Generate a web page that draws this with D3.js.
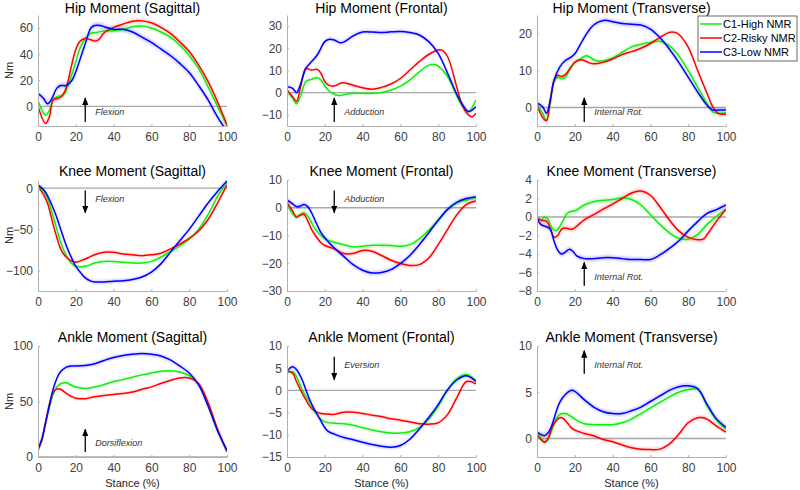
<!DOCTYPE html>
<html><head><meta charset="utf-8">
<script src="https://cdn.jsdelivr.net/npm/d3@7"></script>
<style>body{margin:0;background:#fff}</style>
</head><body>
<svg id="c" width="800" height="490"></svg>
<script>
// ---------------- DATA ----------------
const groups = ["C1-High NMR", "C2-Risky NMR", "C3-Low NMR"];
const groupColors = ["#10ee10", "#ff0000", "#0000ff"];
const xTicks = [0, 20, 40, 60, 80, 100];

const hipSag = [
  [[0,4.3],[4,-6.6],[6,-3],[8,5],[10,7.4],[12,8],[14,9.5],[16,16],[18,25],[20,34],[22,44],[25,52],[28,56],[30,56.4],[35,57.7],[40,58],[45,59],[50,61],[55,61.5],[60,60],[65,57],[70,53],[75,47],[80,39],[85,29],[90,15],[93,6],[96,-3],[100,-15]],
  [[0,0],[4,-13],[6,-8],[8,5],[10,6],[12,7],[14,11],[16,20],[18,33],[20,43.6],[22,49.5],[25,52],[28,51],[30,50],[32,51],[35,56.4],[40,60.5],[45,63],[50,65.3],[55,65.5],[60,64],[65,60.5],[70,56],[75,49.5],[80,42],[85,31.6],[90,19],[93,10],[96,0],[100,-14]],
  [[0,10],[3,6],[5,2],[7,5],[10,14],[12,16],[15,16],[18,20],[20,26.5],[22,35],[25,48],[28,60],[30,62],[33,62],[35,61],[40,59],[45,59],[50,57],[55,53],[60,49],[65,44],[70,39],[75,33],[80,26],[85,16],[90,5],[93,-3],[96,-10.5],[100,-19]]
];
const hipFront = [
  [[0,0.5],[3,-2.5],[5,-5],[7,-1.8],[10,5],[13,6],[16,6.7],[18,5.7],[20,3],[22,1],[25,-0.7],[28,-1.3],[30,-0.9],[35,-0.3],[40,-0.3],[45,-0.3],[50,0.1],[55,1.2],[60,3],[65,5.7],[70,9.4],[75,12.4],[78,12.7],[80,12],[85,7.2],[90,-1.8],[93,-6.3],[96,-8.5],[100,-3.3]],
  [[0,1.2],[3,-1.8],[5,-4],[7,2],[9,9.4],[10,11],[13,10.2],[16,10.5],[18,8.7],[20,5],[22,3.4],[25,3],[28,4.2],[30,4.5],[35,3.4],[40,2.2],[45,1.6],[50,2.4],[55,3.9],[60,6.4],[65,10.2],[70,14],[75,17.2],[80,19.2],[82,19.2],[85,16.2],[90,2],[93,-6.3],[96,-10],[98,-10.8],[100,-9.3]],
  [[0,2.7],[3,2],[5,0],[7,3.4],[10,11],[13,14],[16,17],[20,23],[22,24],[25,23.7],[28,22.5],[30,22.8],[35,25.6],[40,27.3],[45,27.3],[50,27.1],[55,27.4],[60,27.6],[65,27.1],[70,26],[75,23],[80,17.7],[85,8.7],[90,-1],[93,-5.5],[96,-8.5],[100,-6.3]]
];
const hipTrans = [
  [[0,0.9],[3,-1.6],[5,-3.4],[7,1],[9,6.9],[11,8.2],[13,7.8],[15,8.2],[18,10.9],[20,12.2],[23,13.1],[26,14],[28,13.6],[30,12.9],[33,12.5],[36,12.7],[40,13.4],[45,14.9],[50,16.4],[55,17.1],[60,17.6],[65,17.9],[70,16.7],[75,14],[80,10],[85,5.5],[90,1.1],[93,-1.2],[96,-1.6],[100,-1.4]],
  [[0,0.6],[3,-2.7],[5,-3.6],[7,2],[9,7.3],[11,8.7],[13,8.4],[15,8.9],[18,10.9],[20,12.2],[23,12.9],[25,12.7],[28,12],[30,11.8],[35,12.2],[40,13.1],[45,14.3],[50,15.1],[55,16],[60,17.3],[65,18.9],[70,20.3],[73,20.3],[75,19.8],[80,16.3],[85,10],[90,3.8],[93,0.2],[96,-1.6],[100,-1.8]],
  [[0,1.25],[3,0.2],[5,-1.6],[7,2],[9,7.3],[12,10.9],[15,12.7],[18,13.6],[20,14.5],[23,17.1],[25,18.9],[28,21.2],[30,22.3],[33,23.2],[36,23.6],[40,23.2],[45,22.7],[50,22.5],[55,22.3],[60,21.2],[65,18.9],[70,15.8],[75,12.2],[80,8.2],[85,4.2],[90,0.6],[93,-0.7],[96,-0.7],[100,-0.7]]
];
const kneeSag = [
  [[0,2.8],[3,-4],[5,-12],[8,-34],[10,-50],[12,-66],[15,-82],[18,-92],[20,-95],[25,-95],[30,-91],[35,-89],[40,-89],[45,-90],[50,-91],[55,-91],[60,-89],[65,-84],[70,-77],[75,-70],[80,-62],[85,-50],[90,-32],[95,-10],[100,7.2]],
  [[0,2],[3,-8],[5,-18],[8,-44],[10,-60],[12,-74],[15,-84],[18,-89],[20,-90],[25,-86],[30,-81],[35,-78],[40,-78],[45,-80],[50,-81],[55,-82],[60,-81],[65,-79],[70,-74],[75,-68],[80,-61],[85,-52],[90,-38],[95,-18],[100,4]],
  [[0,4],[3,-2],[5,-9],[8,-24],[10,-36],[12,-50],[15,-70],[18,-86],[20,-95],[23,-104],[25,-109],[28,-113],[30,-114],[35,-114],[40,-113],[45,-112.5],[50,-111],[55,-108],[60,-102],[65,-92],[70,-78],[75,-64],[80,-50],[85,-34],[90,-18],[95,-4],[100,8.8]]
];
const kneeFront = [
  [[0,1.2],[3,-2.2],[5,-3.3],[7,-2.4],[9,-1.8],[11,-3],[13,-5.4],[15,-7.8],[18,-10],[20,-11.2],[25,-12.4],[30,-13.3],[35,-14.1],[40,-13.9],[45,-13.5],[50,-13.5],[55,-13.6],[60,-13.9],[65,-13.3],[70,-11.2],[75,-8.1],[80,-4.5],[85,-0.6],[90,1.8],[95,2.8],[100,3.4]],
  [[0,1.8],[3,-1.2],[5,-3.4],[7,-2.7],[9,-2.4],[11,-4.8],[13,-7.8],[15,-10],[18,-12.6],[20,-13.6],[25,-14.8],[30,-16.5],[35,-16.5],[40,-15.4],[45,-15.7],[50,-17.2],[55,-18.9],[60,-20.1],[65,-20.8],[70,-20.5],[75,-18.1],[80,-13.3],[85,-7.8],[90,-2.4],[95,1.2],[100,2.4]],
  [[0,2.8],[3,1.4],[5,0.4],[7,0.6],[9,1.2],[11,0.4],[13,-1.8],[15,-4.8],[18,-9],[20,-10.8],[25,-14.5],[30,-17.5],[35,-20.5],[40,-22.5],[45,-23.5],[50,-23.3],[55,-22.3],[60,-20.1],[65,-17.2],[70,-13.3],[75,-9],[80,-4.5],[85,-0.6],[90,2],[95,3.3],[100,4]]
];
const kneeTrans = [
  [[0,0],[2,-0.35],[4,0],[6,-0.3],[8,-1.2],[10,-1.5],[12,-1.05],[14,-0.3],[16,0.4],[18,0.6],[20,0.67],[25,1.3],[30,1.65],[35,1.8],[40,1.9],[45,2.05],[50,1.9],[55,1.3],[60,0.25],[65,-0.8],[70,-1.7],[75,-2.3],[80,-2.4],[85,-1.9],[90,-0.8],[95,0.07],[100,0.85]],
  [[0,-0.1],[2,-0.35],[5,-0.45],[7,-1.2],[9,-2.2],[11,-2],[13,-1.3],[15,-1.2],[17,-1.3],[19,-1.3],[21,-1],[25,-0.3],[30,0.25],[35,0.85],[40,1.4],[45,2],[50,2.6],[55,2.8],[60,2.35],[65,1.1],[70,-0.3],[75,-1.5],[80,-2.2],[85,-2.45],[88,-2.4],[90,-1.9],[95,-0.45],[100,0.85]],
  [[0,-0.1],[2,-0.8],[5,-1.05],[7,-1.3],[9,-2.6],[11,-3.6],[13,-4],[15,-3.8],[17,-3.5],[19,-3.7],[21,-4.2],[25,-4.5],[30,-4.5],[35,-4.4],[40,-4.4],[45,-4.5],[50,-4.6],[55,-4.6],[60,-4.6],[65,-4.1],[70,-3.4],[75,-2.6],[80,-1.5],[85,-0.5],[90,0.4],[95,0.8],[100,1.3]]
];
const ankleSag = [
  [[0,7.4],[2,15],[4,30],[6,44.5],[8,56.4],[10,63.2],[12,66],[15,66.8],[18,64.4],[20,63],[25,61.7],[30,63],[35,65.3],[40,68],[45,69.7],[50,71.8],[55,74],[60,75.7],[65,77.2],[70,77.7],[75,76.6],[80,73.3],[85,65.3],[90,46],[95,23.7],[100,4.5]],
  [[0,6],[2,15],[4,31],[6,47.5],[8,58],[10,61.4],[12,61],[15,57.3],[18,54.3],[20,53],[25,52.5],[30,54.3],[35,55.5],[40,56.4],[45,57.3],[50,58.5],[55,61],[60,63.2],[65,66.2],[70,69],[75,71.2],[80,71.2],[85,66.2],[90,49],[95,25.2],[100,5]],
  [[0,7.4],[2,16],[4,31],[6,46],[8,61],[10,71],[12,77],[15,81],[18,82],[20,82],[25,82.5],[30,84],[35,87],[40,89.6],[45,91.4],[50,92.6],[55,93.2],[60,92.6],[65,91],[70,87.5],[75,82],[80,75.7],[85,65],[90,46],[95,23.7],[100,6]]
];
const ankleFront = [
  [[0,4],[3,4.2],[5,3.1],[8,0.15],[10,-1.3],[12,-2.8],[15,-5],[18,-6.5],[20,-7.1],[25,-7.4],[30,-7.5],[35,-7.85],[40,-8.4],[45,-8.9],[50,-9.3],[55,-9.6],[60,-9.6],[65,-9.3],[70,-8.4],[75,-6.5],[80,-3.6],[85,0.15],[90,2.7],[95,3.6],[100,2.2]],
  [[0,4.4],[3,3.9],[5,2],[8,-0.6],[10,-2.1],[12,-3.6],[15,-4.7],[18,-5.2],[20,-5.3],[25,-5.4],[30,-4.9],[35,-4.9],[40,-5.2],[45,-5.6],[50,-5.9],[55,-6.4],[60,-6.7],[65,-7.1],[70,-7.5],[75,-7.6],[80,-7.3],[85,-5.4],[90,-1.5],[95,2],[100,1.5]],
  [[0,4.4],[3,5.3],[5,4.7],[8,2.4],[10,0.15],[12,-2.1],[15,-4.7],[18,-6.9],[20,-8.4],[22,-9.3],[25,-9.85],[30,-10.6],[35,-11.1],[40,-11.7],[45,-12.2],[50,-12.6],[55,-12.8],[60,-12.4],[65,-11],[70,-8.7],[75,-6.1],[80,-3.2],[85,0.15],[90,2.4],[95,3.3],[100,2]]
];
const ankleTrans = [
  [[0,0.6],[2,0.1],[4,-0.4],[6,-0.1],[8,1],[10,2.1],[12,2.6],[15,2.7],[18,2.4],[20,2.1],[25,1.6],[30,1.5],[35,1.5],[40,1.5],[45,1.7],[50,2.1],[55,2.7],[60,3.3],[65,3.9],[70,4.5],[75,5],[80,5.3],[85,5.3],[90,3.5],[95,2],[100,1]],
  [[0,0.45],[2,-0.1],[4,-0.4],[6,0.1],[8,1.2],[10,1.9],[12,2.25],[14,2.15],[16,1.7],[18,1.2],[20,0.9],[25,0.55],[30,0.3],[35,-0.1],[40,-0.35],[45,-0.7],[50,-1],[55,-1.15],[60,-1.2],[65,-1.15],[70,-0.6],[75,0.45],[80,1.7],[85,2.25],[88,2.25],[90,2.1],[95,1.35],[100,0.7]],
  [[0,0.65],[2,0.45],[4,0.3],[6,0.65],[8,1.5],[10,2.8],[12,3.9],[15,4.75],[18,5.2],[20,5.1],[25,4.2],[30,3.4],[35,2.9],[40,2.7],[45,2.7],[50,3],[55,3.4],[60,4],[65,4.6],[70,5.2],[75,5.6],[80,5.7],[85,5.4],[90,3.7],[95,2.1],[100,1.2]]
];

// band half-widths (standard error) for C1, C2, C3
const hipSagSE = [1.5, 1.5, 2];
const hipFrontSE = [0.6, 0.5, 0.8];
const hipTransSE = [0.5, 0.4, 0.6];
const kneeSagSE = [1.5, 1.5, 2];
const kneeFrontSE = [0.6, 0.6, 0.8];
const kneeTransSE = [0.25, 0.25, 0.25];
const ankleSagSE = [1, 1, 1.5];
const ankleFrontSE = [0.3, 0.3, 0.4];
const ankleTransSE = [0.2, 0.2, 0.25];

const titles = ["Hip Moment (Sagittal)","Hip Moment (Frontal)","Hip Moment (Transverse)",
  "Knee Moment (Sagittal)","Knee Moment (Frontal)","Knee Moment (Transverse)",
  "Ankle Moment (Sagittal)","Ankle Moment (Frontal)","Ankle Moment (Transverse)"];
const yDomains = [[-15,70],[-15,35],[-5,25],[-125,10],[-30,10],[-8,4],[0,100],[-15,10],[-2,10]];
const yTicks = [[0,20,40,60],[-10,0,10,20,30],[0,10,20],[-100,-50,0],[-30,-20,-10,0,10],
  [-8,-6,-4,-2,0,2,4],[0,50,100],[-15,-10,-5,0,5,10],[0,5,10]];
// annotations: stance x, arrow tail, arrow head, label, label y
const annX = 25;
const annTail = [-12, -13.2, -3.9, -2.9, 6.2, -7.43, 4.5, 7.6, 7];
const annHead = [6.4, -2.4, 2.6, -29.8, -1.8, -4.9, 25, 2.4, 9.5];
const annLabels = ["Flexion","Adduction","Internal Rot.","Flexion","Abduction","Internal Rot.","Dorsiflexion","Eversion","Internal Rot."];
const annLabelY = [-6.6, -10, -2, -17.3, 2, -6.8, 10, 5.1, 7.6];

// ---------------- LAYOUT ----------------
const panelData = [hipSag, hipFront, hipTrans, kneeSag, kneeFront, kneeTrans, ankleSag, ankleFront, ankleTrans];
const panelSE = [hipSagSE, hipFrontSE, hipTransSE, kneeSagSE, kneeFrontSE, kneeTransSE, ankleSagSE, ankleFrontSE, ankleTransSE];
const colLeft = [38, 287, 537];
const axW = 189;
const rowTop = [15, 180, 346];
const axH = 111;

const svg = d3.select("#c");
const defs = svg.append("defs");
defs.append("filter").attr("id","blur").attr("x","-10%").attr("y","-10%").attr("width","120%").attr("height","120%")
  .append("feGaussianBlur").attr("stdDeviation", 1.2);
defs.append("marker").attr("id","arr").attr("viewBox","0 0 10 10").attr("refX",9).attr("refY",5)
  .attr("markerWidth",6).attr("markerHeight",6).attr("orient","auto-start-reverse")
  .append("path").attr("d","M0,1 L10,5 L0,9 z").attr("fill","#000");

const font = "Liberation Sans, Arial, Helvetica, sans-serif";
const axisColor = "#b0b0b0";
const tickColor = "#404040";

panelData.forEach((series, i) => {
  const col = i % 3, row = Math.floor(i / 3);
  const x = d3.scaleLinear().domain([0, 100]).range([colLeft[col], colLeft[col] + axW]);
  const y = d3.scaleLinear().domain(yDomains[i]).range([rowTop[row] + axH, rowTop[row]]);
  const g = svg.append("g");

  const cid = "clip" + i;
  defs.append("clipPath").attr("id", cid).append("rect")
    .attr("x", x(0)).attr("y", y.range()[1]).attr("width", axW).attr("height", axH);

  // zero line
  g.append("line").attr("x1", x(0)).attr("x2", x(100)).attr("y1", y(0)).attr("y2", y(0))
    .attr("stroke", "#a8a8a8").attr("stroke-width", 1.3);

  const plot = g.append("g").attr("clip-path", `url(#${cid})`);
  const area = d3.area().x(d => x(d[0])).curve(d3.curveCatmullRom.alpha(0.5));
  const line = d3.line().x(d => x(d[0])).y(d => y(d[1])).curve(d3.curveCatmullRom.alpha(0.5));

  series.forEach((s, k) => {
    const se = panelSE[i][k];
    plot.append("path").datum(s)
      .attr("d", area.y0(d => y(d[1] - se)).y1(d => y(d[1] + se)))
      .attr("fill", groupColors[k]).attr("opacity", 0.22).attr("filter", "url(#blur)");
  });
  series.forEach((s, k) => {
    plot.append("path").datum(s).attr("d", line)
      .attr("fill", "none").attr("stroke", groupColors[k]).attr("stroke-width", 1.5);
  });

  // axes
  const xa = g.append("g").attr("transform", `translate(0,${y.range()[0]})`)
    .call(d3.axisBottom(x).tickValues(xTicks).tickSizeInner(-2).tickSizeOuter(0).tickPadding(6));
  const ya = g.append("g").attr("transform", `translate(${x(0)},0)`)
    .call(d3.axisLeft(y).tickValues(yTicks[i]).tickSizeInner(-2).tickSizeOuter(0).tickPadding(5));
  [xa, ya].forEach(a => {
    a.select(".domain").attr("stroke", axisColor);
    a.selectAll(".tick line").attr("stroke", axisColor);
    a.selectAll(".tick text").attr("fill", tickColor).attr("font-size", 12).attr("font-family", font);
  });

  // title
  g.append("text").attr("x", x(50)).attr("y", Math.max(13, y.range()[1] - 4)).attr("text-anchor", "middle")
    .attr("font-family", font).attr("font-size", 14).attr("fill", "#000").text(titles[i]);

  // annotation
  g.append("line").attr("x1", x(annX)).attr("x2", x(annX))
    .attr("y1", y(annTail[i])).attr("y2", y(annHead[i]))
    .attr("stroke", "#000").attr("stroke-width", 1.3).attr("marker-end", "url(#arr)");
  g.append("text").attr("x", x(annX) + 10).attr("y", y(annLabelY[i]))
    .attr("font-family", font).attr("font-size", 9).attr("font-style", "italic")
    .attr("fill", "#333").text(annLabels[i]);

  if (col === 0) {
    g.append("text").attr("transform", `translate(13,${(y.range()[0] + y.range()[1]) / 2}) rotate(-90)`)
      .attr("text-anchor", "middle").attr("font-family", font).attr("font-size", 11).attr("fill", "#262626").text("Nm");
  }
  if (row === 2) {
    g.append("text").attr("x", x(50)).attr("y", 487).attr("text-anchor", "middle")
      .attr("font-family", font).attr("font-size", 11).attr("fill", "#262626").text("Stance (%)");
  }
});

// legend
const lg = svg.append("g").attr("transform", "translate(698,16)");
lg.append("rect").attr("width", 99).attr("height", 45).attr("fill", "#fff").attr("stroke", "#444").attr("stroke-width", 0.8);
groups.forEach((name, k) => {
  const yy = 8 + k * 14;
  lg.append("line").attr("x1", 2).attr("x2", 24).attr("y1", yy).attr("y2", yy)
    .attr("stroke", groupColors[k]).attr("stroke-width", 1.5);
  lg.append("text").attr("x", 25).attr("y", yy + 4).attr("font-family", font).attr("font-size", 11)
    .attr("fill", "#000").text(name);
});
</script></body></html>
